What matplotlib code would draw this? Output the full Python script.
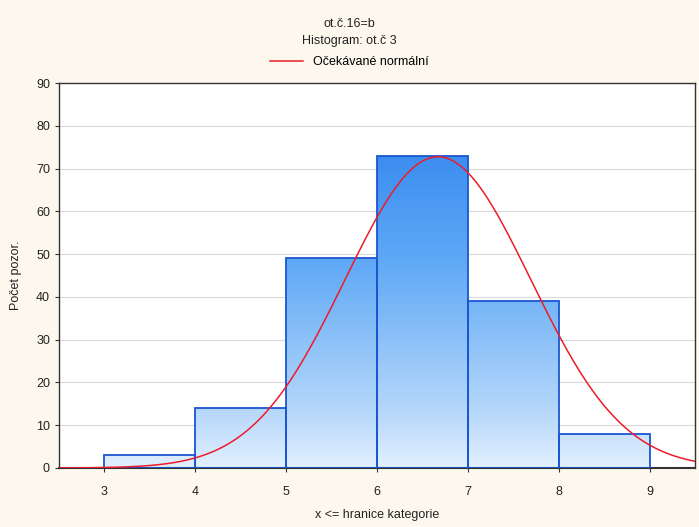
import numpy as np
import matplotlib.pyplot as plt
from matplotlib.colors import LinearSegmentedColormap
from matplotlib.lines import Line2D

plt.rcParams['font.family'] = ['Liberation Sans', 'DejaVu Sans']

# histogram bins (upper bounds) and counts
bin_edges = [3, 4, 5, 6, 7, 8, 9]
counts = [3, 14, 49, 73, 39, 8]
# fitted normal shown in the chart
mean_fit = 6.67
sd_fit = 1.02

x_ticks = [3, 4, 5, 6, 7, 8, 9]
y_ticks = [0, 10, 20, 30, 40, 50, 60, 70, 80, 90]

fig = plt.figure(figsize=(6.99, 5.27), dpi=100, facecolor='#fdf8ee')
ax = fig.add_axes([0.0844, 0.112, 0.910, 0.7305])
ax.set_facecolor('white')

ax.set_xlim(2.5, 9.5)
ax.set_ylim(0, 90)

# gradient fill, light at the bottom, dark blue at the top (absolute height)
cmap = LinearSegmentedColormap.from_list(
    'bl', [(0.0, '#e2f0fe'), (0.19, '#b3d6fa'), (0.66, '#5ea8f6'), (1.0, '#3a8cf0')])
grad = np.linspace(0, 1, 256).reshape(-1, 1)
for lo, hi, c in zip(bin_edges[:-1], bin_edges[1:], counts):
    bar = ax.bar(lo, c, width=hi - lo, align='edge', facecolor='none',
                 edgecolor='#1a56d2', linewidth=1.3, zorder=3)[0]
    im = ax.imshow(grad, cmap=cmap, origin='lower', aspect='auto',
                   extent=[2.5, 9.5, 0, 74], zorder=2, vmin=0, vmax=1)
    im.set_clip_path(bar)

n = sum(counts)
width = bin_edges[1] - bin_edges[0]
xs = np.linspace(2.5, 9.5, 400)
ys = n * width / (sd_fit * np.sqrt(2 * np.pi)) * np.exp(-(xs - mean_fit) ** 2 / (2 * sd_fit ** 2))
ax.plot(xs, ys, color='#ec1c2a', linewidth=1.1, zorder=4)

ax.set_xticks(x_ticks)
ax.set_yticks(y_ticks)
ax.yaxis.grid(True, color='#d8d8d8', linewidth=0.8, zorder=0)
ax.set_axisbelow(True)
ax.tick_params(labelsize=9, length=3, color='#333333', labelcolor='#222222')
ax.tick_params(axis='x', pad=10)
for s in ax.spines.values():
    s.set_color('#333333')
    s.set_linewidth(1.0)
ax.spines['bottom'].set_linewidth(1.5)

ax.set_xlabel('x <= hranice kategorie', fontsize=9, labelpad=8, color='#222222')
ax.set_ylabel('Počet pozor.', fontsize=9, color='#222222', va='center')
ax.yaxis.set_label_coords(-0.068, 0.5)

fig.text(0.5, 0.955, 'ot.č.16=b', ha='center', va='center', fontsize=9, color='#222222')
fig.text(0.5, 0.922, 'Histogram: ot.č 3', ha='center', va='center', fontsize=9, color='#222222')
handle = Line2D([], [], color='#ec1c2a', linewidth=1.1)
fig.legend([handle], ['Očekávané normální'], loc='center', bbox_to_anchor=(0.5, 0.882),
           frameon=False, fontsize=9, handlelength=2.6, borderpad=0)

fig.savefig('out.png', dpi=100, facecolor=fig.get_facecolor())
